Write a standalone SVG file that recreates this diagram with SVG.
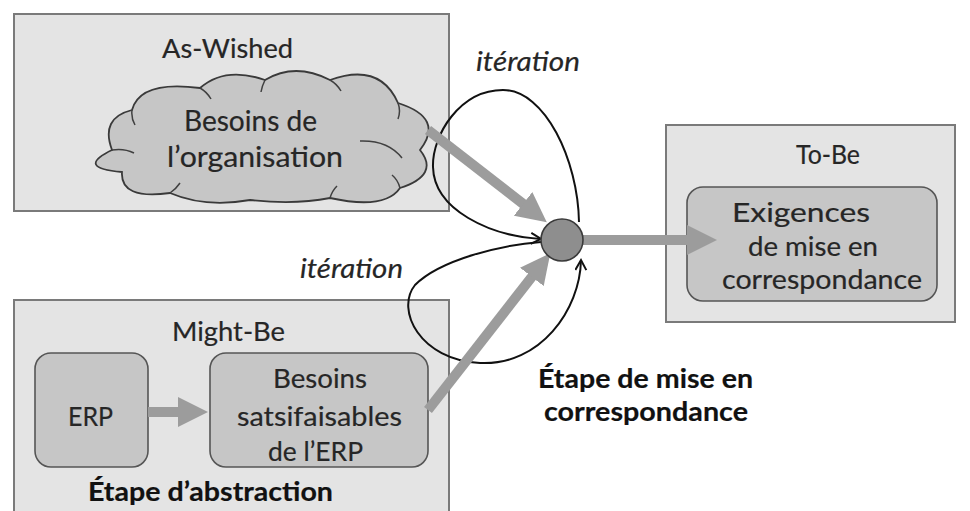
<svg xmlns="http://www.w3.org/2000/svg" width="970" height="511" viewBox="0 0 970 511">
<style>
.frame{fill:#e4e4e4;stroke:#7a7a7a;stroke-width:2}
.inner{fill:#c6c6c6;stroke:#555;stroke-width:1.6}
.t{font-family:Lato,"Open Sans","Liberation Sans",sans-serif;font-size:27.5px;fill:#262626;stroke:#262626;stroke-width:0.2}
.big{font-size:28px}
.b{font-weight:bold;fill:#111;stroke:#111;stroke-width:0.2}
.i{font-style:italic}
.thick{stroke:#9c9c9c;stroke-width:10;fill:none;marker-end:url(#gh)}
.loop{stroke:#111;stroke-width:2;fill:none;marker-end:url(#bh)}
.detail{fill:none;stroke:#404040;stroke-width:1.5}
</style>
<defs>
<marker id="gh" markerUnits="userSpaceOnUse" markerWidth="30" markerHeight="30" refX="10" refY="15" orient="auto"><path d="M0,0 L30,15 L0,30 z" fill="#9c9c9c"/></marker>
<marker id="bh" markerUnits="userSpaceOnUse" markerWidth="14" markerHeight="14" refX="11" refY="6" orient="auto"><path d="M1,0.5 L11,6 L1,11.5" fill="none" stroke="#111" stroke-width="2"/></marker>
</defs>
<rect width="970" height="511" fill="#fff"/>

<g id="as-wished">
<rect class="frame" x="14" y="14" width="435" height="197"/>
<text class="t" x="162" y="58" textLength="131" lengthAdjust="spacingAndGlyphs">As-Wished</text>
</g>
<g id="might-be">
<rect class="frame" x="14" y="300" width="435" height="220"/>
<text class="t" x="172" y="341" textLength="113" lengthAdjust="spacingAndGlyphs">Might-Be</text>
<text class="t b" x="88" y="501" textLength="245" lengthAdjust="spacingAndGlyphs">Étape d’abstraction</text>
</g>
<g id="to-be">
<rect class="frame" x="666" y="125" width="289" height="197"/>
<text class="t" x="796" y="164" textLength="64" lengthAdjust="spacingAndGlyphs">To-Be</text>
</g>

<g id="besoins-organisation">
<path fill="#c6c6c6" stroke="#3a3a3a" stroke-width="1.8" d="M112,150 Q100,118 132,110 Q140,80 200,88 Q225,66 265,80 Q295,62 330,80 Q380,62 398,103 Q445,118 420,150 Q440,175 400,188 Q385,210 330,198 Q295,205 250,200 Q205,208 170,193 Q120,200 122,172 Q75,168 112,150 Z"/>
<path class="detail" d="M112,150 Q124,148 134,153 M132,110 Q131,118 135,125 M200,88 Q207,92 211,99 M265,80 Q262,86 261,92 M330,80 Q337,84 341,91 M398,103 Q401,111 398,119 M360,141 Q388,140 402,158 M400,188 Q398,180 392,175 M330,198 Q332,191 337,186 M170,193 Q176,189 180,183"/>
<text class="t big" x="184" y="131" textLength="133" lengthAdjust="spacingAndGlyphs">Besoins de</text>
<text class="t big" x="167" y="167" textLength="176" lengthAdjust="spacingAndGlyphs">l’organisation</text>
</g>

<g id="erp">
<rect class="inner" x="35" y="353" width="113" height="114" rx="16"/>
<text class="t" x="68" y="426" textLength="45" lengthAdjust="spacingAndGlyphs">ERP</text>
</g>
<g id="besoins-erp">
<rect class="inner" x="210" y="353" width="218" height="114" rx="16"/>
<text class="t" x="273" y="388" textLength="94" lengthAdjust="spacingAndGlyphs">Besoins</text>
<text class="t" x="237" y="426" textLength="165" lengthAdjust="spacingAndGlyphs">satsifaisables</text>
<text class="t" x="268" y="461" textLength="95" lengthAdjust="spacingAndGlyphs">de l’ERP</text>
</g>
<g id="exigences">
<rect class="inner" x="687" y="187" width="250" height="114" rx="16"/>
<text class="t" x="732" y="222" textLength="138" lengthAdjust="spacingAndGlyphs">Exigences</text>
<text class="t" x="748" y="256" textLength="130" lengthAdjust="spacingAndGlyphs">de mise en</text>
<text class="t" x="722" y="289" textLength="200" lengthAdjust="spacingAndGlyphs">correspondance</text>
</g>
<g id="labels">
<text class="t i" x="476" y="71" textLength="104" lengthAdjust="spacingAndGlyphs">itération</text>
<text class="t i" x="300" y="278" textLength="103" lengthAdjust="spacingAndGlyphs">itération</text>
<text class="t b" x="538" y="388" textLength="215" lengthAdjust="spacingAndGlyphs">Étape de mise en</text>
<text class="t b" x="544" y="421" textLength="204" lengthAdjust="spacingAndGlyphs">correspondance</text>
</g>

<g id="connectors">
<path class="loop" d="M579,222 C578,160 545,90 503,90 C460,90 432,135 433,167 C434,210 490,236 541,239"/>
<path class="loop" d="M541,242 C500,245 440,260 415,285 C395,310 420,360 480,363 C540,366 580,310 581,260"/>
<line class="thick" x1="428" y1="130" x2="531" y2="210"/>
<line class="thick" x1="428" y1="410" x2="538" y2="269"/>
<line class="thick" x1="583" y1="240" x2="697" y2="240"/>
<line class="thick" x1="148" y1="412" x2="188" y2="412"/>
</g>

<g id="mise-en-correspondance">
<circle cx="562" cy="240" r="21" fill="#8e8e8e" stroke="#3a3a3a" stroke-width="1.6"/>
</g>
</svg>
